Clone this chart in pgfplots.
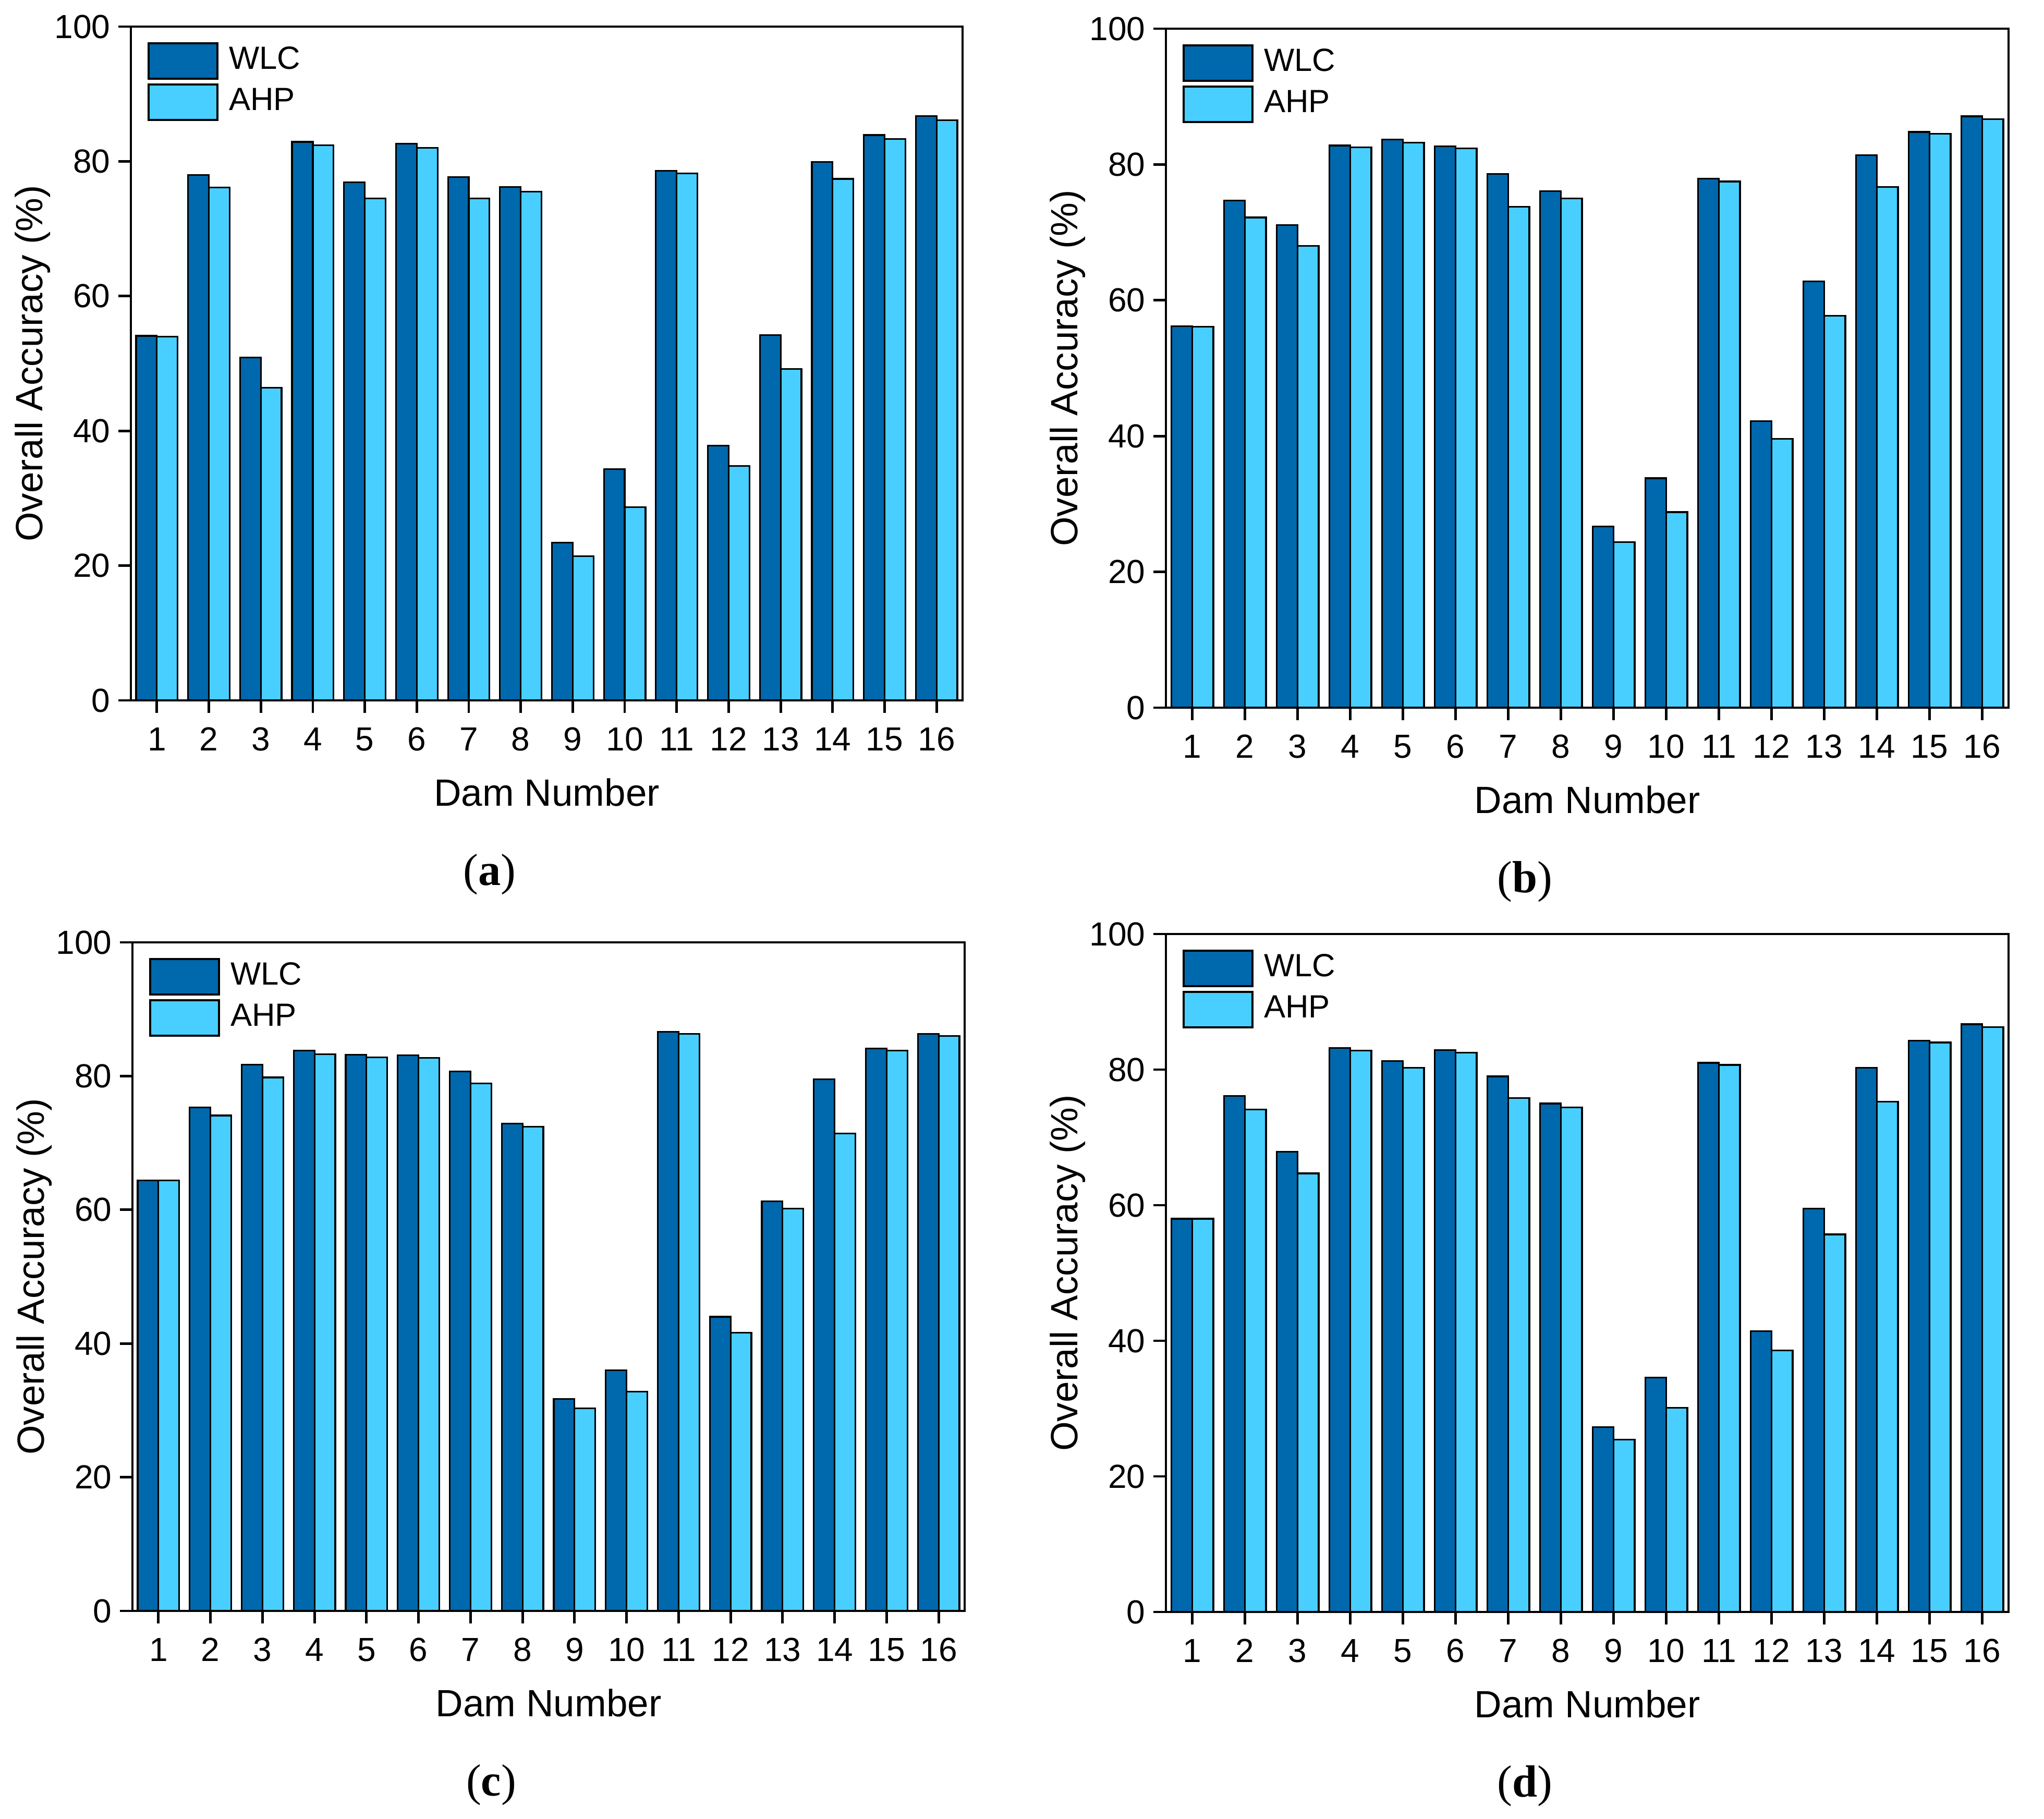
\documentclass[border=0pt]{standalone}
\usepackage{pgfplots}
\usepackage{pgfplotstable}
\pgfplotsset{compat=1.18}
\usepackage{fontspec}
\setmainfont{Liberation Sans}
\newfontfamily\capfont{Liberation Serif}
\definecolor{wlc}{RGB}{0,104,172}
\definecolor{ahp}{RGB}{72,207,255}

\pgfplotstableread{
x wlc ahp
1 54.1 54.0
2 78.0 76.1
3 50.9 46.4
4 82.9 82.4
5 76.9 74.5
6 82.6 82.0
7 77.7 74.5
8 76.2 75.5
9 23.4 21.4
10 34.3 28.7
11 78.6 78.2
12 37.8 34.8
13 54.2 49.2
14 79.9 77.4
15 83.9 83.3
16 86.7 86.1
}\dataA

\pgfplotstableread{
x wlc ahp
1 56.2 56.1
2 74.7 72.2
3 71.1 68.0
4 82.8 82.5
5 83.7 83.2
6 82.7 82.4
7 78.6 73.8
8 76.1 75.0
9 26.7 24.4
10 33.8 28.8
11 77.9 77.5
12 42.2 39.6
13 62.8 57.7
14 81.4 76.7
15 84.8 84.5
16 87.1 86.7
}\dataB

\pgfplotstableread{
x wlc ahp
1 64.4 64.4
2 75.3 74.1
3 81.7 79.8
4 83.8 83.3
5 83.2 82.8
6 83.1 82.7
7 80.7 78.9
8 72.9 72.4
9 31.7 30.3
10 36.0 32.8
11 86.6 86.3
12 44.0 41.6
13 61.3 60.2
14 79.5 71.4
15 84.1 83.8
16 86.3 86.0
}\dataC

\pgfplotstableread{
x wlc ahp
1 58.0 58.0
2 76.1 74.1
3 67.9 64.7
4 83.2 82.8
5 81.3 80.3
6 82.9 82.5
7 79.0 75.8
8 75.0 74.4
9 27.3 25.4
10 34.6 30.1
11 81.0 80.7
12 41.4 38.6
13 59.5 55.7
14 80.3 75.3
15 84.3 84.0
16 86.7 86.3
}\dataD

\pgfplotsset{
  dam/.style={
    scale only axis,
    anchor=south west,
    clip=false,
    ybar,
    bar width=0.4,
    xmin=0.5, xmax=16.5,
    ymin=0, ymax=100,
    xtick={1,...,16},
    ytick={0,20,...,100},
    tick pos=left,
    tick align=outside,
    major tick length=3pt,
    axis line style={line width=0.6pt},
    every tick/.style={black, line width=0.6pt},
    /pgf/number format/assume math mode=true,
    tick label style={font=\fontsize{8}{9}\selectfont},
    yticklabel style={xshift=1.6pt},
    every axis x label/.style={at={(axis description cs:0.5,0)}, anchor=center, yshift=-22pt, font=\fontsize{9.1}{10}\selectfont},
    every axis y label/.style={at={(axis description cs:0,0.5)}, anchor=center, xshift=-23.5pt, rotate=90, font=\fontsize{9.1}{10}\selectfont},
    xlabel={Dam Number},
    ylabel={Overall Accuracy (\%)},
    legend style={at={(axis description cs:0,1)}, anchor=north west, xshift=3.75pt, yshift=-3.6pt,
      draw=none, fill=none, inner sep=0pt, row sep=0.875pt, column sep=2.5pt,
      nodes={inner sep=0pt}, font=\fontsize{7.7}{8}\selectfont},
    legend cell align=left,
    legend image code/.code={\draw[#1, line width=0.5pt] (0pt,-4.25pt) rectangle (16.6pt,4.25pt);},
  },
  wlcbar/.style={fill=wlc, draw=black, line width=0.4pt, bar shift=-0.2},
  ahpbar/.style={fill=ahp, draw=black, line width=0.4pt, bar shift=0.2},
}

\begin{document}
\begin{tikzpicture}
\path[use as bounding box] (0,0) rectangle (490pt,435.875pt);

\begin{axis}[dam, at={(31.375pt,268pt)}, width=199.375pt, height=161.5pt]
\addplot[wlcbar] table[x=x,y=wlc]{\dataA};
\addplot[ahpbar] table[x=x,y=ahp]{\dataA};
\legend{WLC,AHP}
\path (axis description cs:0,0) ++(86pt,-41.75pt) node[font=\capfont\fontsize{10.8}{12}\selectfont] {(\textbf{a})};
\end{axis}

\begin{axis}[dam, at={(279.5pt,266.25pt)}, width=202pt, height=162.75pt]
\addplot[wlcbar] table[x=x,y=wlc]{\dataB};
\addplot[ahpbar] table[x=x,y=ahp]{\dataB};
\legend{WLC,AHP}
\path (axis description cs:0,0) ++(86pt,-41.75pt) node[font=\capfont\fontsize{10.8}{12}\selectfont] {(\textbf{b})};
\end{axis}

\begin{axis}[dam, at={(31.75pt,49.75pt)}, width=199.5pt, height=160.25pt]
\addplot[wlcbar] table[x=x,y=wlc]{\dataC};
\addplot[ahpbar] table[x=x,y=ahp]{\dataC};
\legend{WLC,AHP}
\path (axis description cs:0,0) ++(86pt,-41.75pt) node[font=\capfont\fontsize{10.8}{12}\selectfont] {(\textbf{c})};
\end{axis}

\begin{axis}[dam, at={(279.5pt,49.5pt)}, width=202pt, height=162.5pt]
\addplot[wlcbar] table[x=x,y=wlc]{\dataD};
\addplot[ahpbar] table[x=x,y=ahp]{\dataD};
\legend{WLC,AHP}
\path (axis description cs:0,0) ++(86pt,-41.75pt) node[font=\capfont\fontsize{10.8}{12}\selectfont] {(\textbf{d})};
\end{axis}
\end{tikzpicture}
\end{document}
